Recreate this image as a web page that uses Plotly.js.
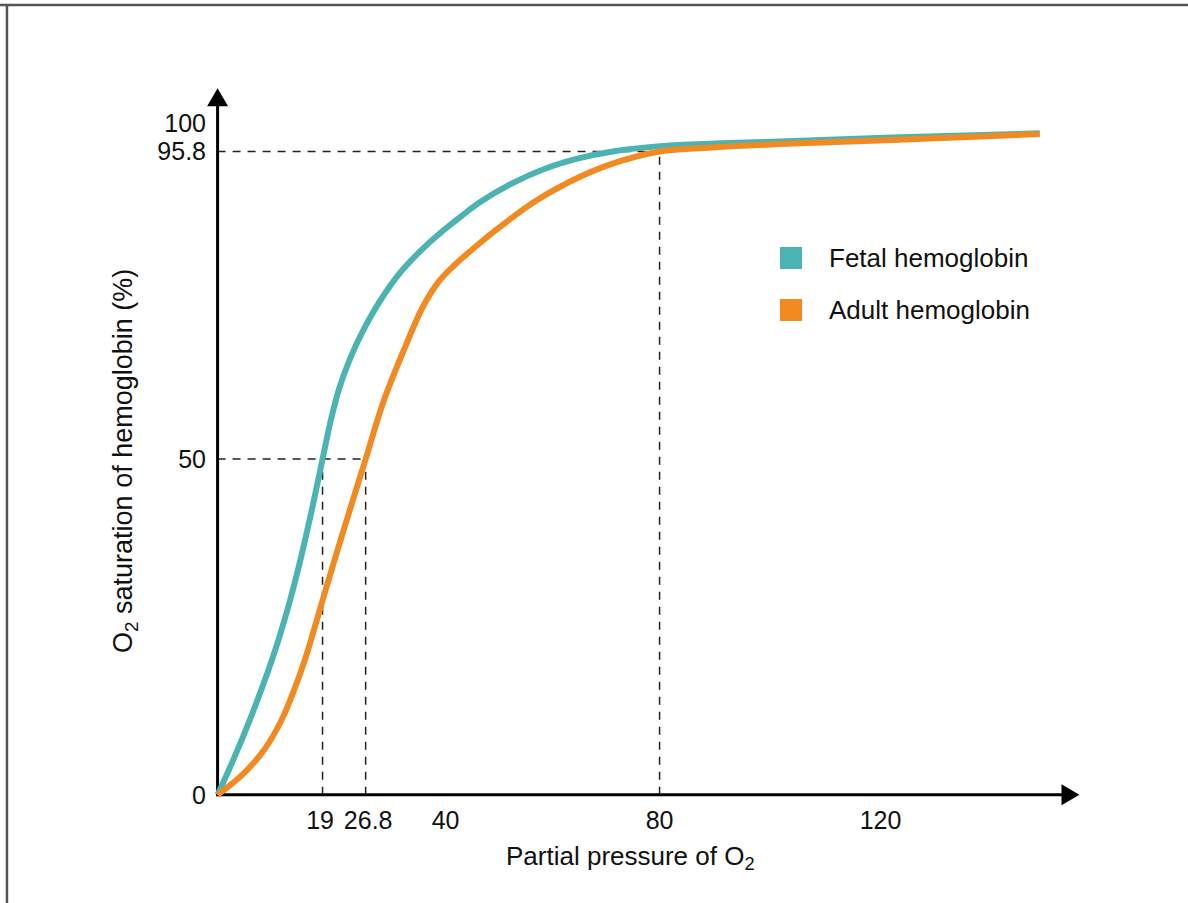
<!DOCTYPE html>
<html>
<head>
<meta charset="utf-8">
<script src="https://cdn.plot.ly/plotly-3.0.1.min.js"></script>
<style>html,body{margin:0;padding:0;background:#fff;}#chart{width:1188px;height:903px;}</style>
</head>
<body>
<div id="chart"></div>
<script>
// ---- data ----
var seriesNames = ["Fetal hemoglobin", "Adult hemoglobin"];
var fetalPO2 = [0, 3, 6, 9, 11, 13, 15, 17, 19, 20.5, 22, 24, 26.2, 29.3, 32.9, 36.6, 40.2, 44, 47.4, 53.4, 59.5, 65.5, 71.5, 80, 90, 101.7, 122, 148.8];
var fetalSat = [0, 5.5, 11.5, 18.1, 23.0, 28.6, 35.0, 42.2, 50, 55.8, 60.5, 65, 68.9, 73.4, 77.6, 80.9, 83.6, 86.1, 88.2, 91.1, 93.3, 94.8, 95.8, 96.6, 97.0, 97.3, 97.9, 98.5];
var adultPO2 = [0, 4.5, 8.5, 11.5, 13.8, 15.8, 17.6, 19.4, 22.8, 26.8, 30.0, 33.7, 37.3, 40.2, 42.9, 46.5, 51.0, 57.7, 65.5, 71.5, 80, 89.6, 101.7, 122.2, 148.8];
var adultSat = [0, 3.0, 6.8, 11.0, 15.5, 20.1, 25.0, 30.1, 39.4, 50, 58.5, 66.2, 72.9, 76.6, 78.9, 81.5, 84.5, 88.5, 92.0, 94.0, 95.8, 96.4, 96.9, 97.5, 98.4];
var xTickVals = [19, 26.8, 40, 80, 120];
var xTickText = ["19\u2009", "\u200926.8", "\u00A0\u00A040", "80", "120"];
var yTickVals = [0, 50, 95.8, 100];
var yTickText = ["0", "50", "95.8", "100"];
var xTitle = "Partial pressure of O<sub>2</sub>";
var yTitle = "O<sub>2</sub> saturation of hemoglobin (%)";
var p50Fetal = 19, p50Adult = 26.8, halfSat = 50;
var refPO2 = 80, refSat = 95.8;
var xAxisEnd = 156, yAxisEnd = 105.2;

var colors = ["#4BB4B2", "#F28A22"];
var FONT = "Liberation Sans, Arial, Helvetica, sans-serif";
var FS = 26, TFS = 25;

var traces = [
  {x: fetalPO2, y: fetalSat, name: seriesNames[0], mode: "lines",
   line: {color: colors[0], width: 6, shape: "spline", smoothing: 1}, hoverinfo: "x+y+name"},
  {x: adultPO2, y: adultSat, name: seriesNames[1], mode: "lines",
   line: {color: colors[1], width: 6, shape: "spline", smoothing: 1}, hoverinfo: "x+y+name"}
];

var dash = {color: "#222", width: 1.5, dash: "8px,7px"};
var axisLine = {color: "#000", width: 3};
var shapes = [
  {type: "line", xref: "x", yref: "y", x0: 0, x1: refPO2, y0: refSat, y1: refSat, line: dash, layer: "below"},
  {type: "line", xref: "x", yref: "y", x0: refPO2, x1: refPO2, y0: 0, y1: refSat, line: dash, layer: "below"},
  {type: "line", xref: "x", yref: "y", x0: 0, x1: p50Adult, y0: halfSat, y1: halfSat, line: dash, layer: "below"},
  {type: "line", xref: "x", yref: "y", x0: p50Fetal, x1: p50Fetal, y0: 0, y1: halfSat, line: dash, layer: "below"},
  {type: "line", xref: "x", yref: "y", x0: p50Adult, x1: p50Adult, y0: 0, y1: halfSat, line: dash, layer: "below"},
  // axes with arrowheads
  {type: "line", xref: "x", yref: "y", x0: 0, x1: 0, y0: -0.2, y1: yAxisEnd - 2, line: axisLine, layer: "below"},
  {type: "line", xref: "x", yref: "y", x0: -0.25, x1: xAxisEnd - 2, y0: 0, y1: 0, line: axisLine, layer: "below"},
  {type: "path", xref: "x", yref: "y", xsizemode: "pixel", ysizemode: "pixel", xanchor: 0, yanchor: yAxisEnd,
   path: "M-10.5,-18 L10.5,-18 L0,0 Z", fillcolor: "#000", line: {width: 0}},
  {type: "path", xref: "x", yref: "y", xsizemode: "pixel", ysizemode: "pixel", xanchor: xAxisEnd, yanchor: 0,
   path: "M-18,-10.5 L-18,10.5 L0,0 Z", fillcolor: "#000", line: {width: 0}},
  // frame
  {type: "line", xref: "paper", yref: "paper", x0: -0.24, x1: 1.2, y0: 1.1066, y1: 1.1066, line: {color: "#555", width: 2.5}},
  {type: "line", xref: "paper", yref: "paper", x0: -0.2195, x1: -0.2195, y0: -0.2, y1: 1.1066, line: {color: "#555", width: 2.5}},
  // legend squares
  {type: "rect", xref: "paper", yref: "paper", x0: 0.655, x1: 0.6799, y0: 0.7459, y1: 0.776, fillcolor: colors[0], line: {width: 0}},
  {type: "rect", xref: "paper", yref: "paper", x0: 0.655, x1: 0.6799, y0: 0.6749, y1: 0.7049, fillcolor: colors[1], line: {width: 0}}
];

var annotations = [
  {x: 0.7081, y: 0.761, xref: "paper", yref: "paper", xanchor: "left", yanchor: "middle", showarrow: false,
   text: seriesNames[0], font: {family: FONT, size: FS, color: "#111"}},
  {x: 0.7081, y: 0.6899, xref: "paper", yref: "paper", xanchor: "left", yanchor: "middle", showarrow: false,
   text: seriesNames[1], font: {family: FONT, size: FS, color: "#111"}},
  {x: 0.4864, y: -0.0587, xref: "paper", yref: "paper", xanchor: "center", yanchor: "middle", showarrow: false,
   text: xTitle, font: {family: FONT, size: FS, color: "#111"}},
  {x: -0.086, y: 0.4836, xref: "paper", yref: "paper", xanchor: "center", yanchor: "middle", showarrow: false,
   textangle: -90, text: yTitle, font: {family: FONT, size: 27, color: "#111"}}
];

var layout = {
  width: 1188, height: 903,
  margin: {l: 201, r: 103, t: 83, b: 88, pad: 0},
  paper_bgcolor: "#fff", plot_bgcolor: "#fff",
  showlegend: false,
  font: {family: FONT, size: FS, color: "#111"},
  xaxis: {range: [-3, 157], showgrid: false, zeroline: false, showline: false,
          tickmode: "array", tickvals: xTickVals, ticktext: xTickText, tickangle: 0,
          ticks: "outside", ticklen: 6, tickcolor: "rgba(0,0,0,0)", ticklabelstandoff: -23,
          tickfont: {family: FONT, size: TFS, color: "#111"}},
  yaxis: {range: [-3, 106], showgrid: false, zeroline: false, showline: false,
          tickmode: "array", tickvals: yTickVals, ticktext: yTickText,
          ticks: "outside", ticklen: 7, tickcolor: "rgba(0,0,0,0)", ticklabelstandoff: -18,
          tickfont: {family: FONT, size: TFS, color: "#111"}},
  shapes: shapes,
  annotations: annotations
};

Plotly.newPlot("chart", traces, layout, {displayModeBar: false, staticPlot: true});
</script>
</body>
</html>
